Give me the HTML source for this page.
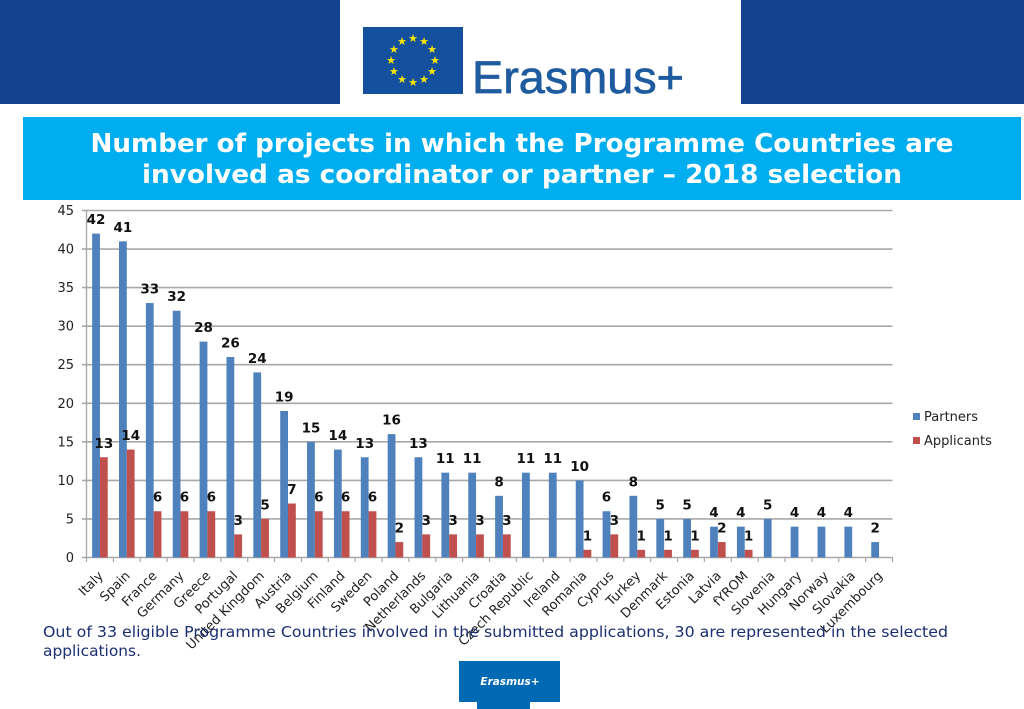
<!DOCTYPE html>
<html lang="en">
<head>
<meta charset="utf-8">
<title>Number of projects - 2018 selection</title>
<style>
html,body{margin:0;padding:0;background:#fff;width:1024px;height:709px;overflow:hidden}
svg{display:block;font-family:"DejaVu Sans","Liberation Sans",sans-serif;filter:blur(0.35px)}
</style>
</head>
<body>
<svg id="page" width="1024" height="709" viewBox="0 0 1024 709" xmlns="http://www.w3.org/2000/svg">
  <rect x="0" y="0" width="340" height="104" fill="#15428f"/>
  <rect x="741" y="0" width="283" height="104" fill="#15428f"/>
  <g>
    <rect x="363" y="27" width="100" height="67" fill="#15509f"/>
    <g id="stars"></g>
    <text x="472" y="93" font-size="45" fill="#1f5b9f" stroke="#1f5b9f" stroke-width="0.7" textLength="212" lengthAdjust="spacingAndGlyphs" style="font-family:'Liberation Sans',sans-serif">Erasmus+</text>
  </g>
  <rect x="23" y="117" width="998" height="83" fill="#00aeef"/>
  <text x="522" y="152" text-anchor="middle" font-size="26" font-weight="bold" fill="#fff" textLength="863" lengthAdjust="spacingAndGlyphs">Number of projects in which the Programme Countries are</text>
  <text x="522" y="183" text-anchor="middle" font-size="26" font-weight="bold" fill="#fff" textLength="760" lengthAdjust="spacingAndGlyphs">involved as coordinator or partner – 2018 selection</text>

  <g id="chart"></g>

  <g>
    <rect x="913" y="413" width="7" height="7" fill="#4f81bd"/>
    <text x="924" y="421" font-size="13" fill="#222">Partners</text>
    <rect x="913" y="437" width="7" height="7" fill="#c0504d"/>
    <text x="924" y="445" font-size="13" fill="#222">Applicants</text>
  </g>

  <text x="43" y="637" font-size="15.2" fill="#1b2f70" textLength="905" lengthAdjust="spacingAndGlyphs">Out of 33 eligible Programme Countries involved in the submitted applications, 30 are represented in the selected</text>
  <text x="43" y="656" font-size="15.2" fill="#1b2f70" textLength="98" lengthAdjust="spacingAndGlyphs">applications.</text>

  <g>
    <rect x="477" y="695" width="53" height="14" fill="#0069b4"/>
    <rect x="459" y="661" width="101" height="41" fill="#0069b4"/>
    <text x="510" y="685" text-anchor="middle" font-size="10.5" font-weight="bold" font-style="italic" fill="#fff">Erasmus+</text>
  </g>
</svg>
<script>
const categories = ["Italy","Spain","France","Germany","Greece","Portugal","United Kingdom","Austria","Belgium","Finland","Sweden","Poland","Netherlands","Bulgaria","Lithuania","Croatia","Czech Republic","Ireland","Romania","Cyprus","Turkey","Denmark","Estonia","Latvia","fYROM","Slovenia","Hungary","Norway","Slovakia","Luxembourg"];
const partners = [42,41,33,32,28,26,24,19,15,14,13,16,13,11,11,8,11,11,10,6,8,5,5,4,4,5,4,4,4,2];
const applicants = [13,14,6,6,6,3,5,7,6,6,6,2,3,3,3,3,null,null,1,3,1,1,1,2,1,null,null,null,null,null];
const yTicks = [0,5,10,15,20,25,30,35,40,45];

const NS = "http://www.w3.org/2000/svg";
const chart = document.getElementById("chart");
const plotLeft = 86.5, plotRight = 892.5, plotTop = 210.5, plotBottom = 557.5, yMax = 45;
const barW = 7.8;
function yScale(v){ return plotBottom - (v / yMax) * (plotBottom - plotTop); }
function xStart(i){ return plotLeft + i * (plotRight - plotLeft) / categories.length; }
function xCenter(i){ return xStart(i) + (plotRight - plotLeft) / categories.length / 2; }
function make(tag, attrs, text){
  const el = document.createElementNS(NS, tag);
  for (const k in attrs) el.setAttribute(k, attrs[k]);
  if (text !== undefined) el.textContent = text;
  chart.appendChild(el);
  return el;
}

yTicks.forEach(function(t){
  const y = yScale(t);
  const line = make("line", {x1:82, x2:plotRight, y1:y, y2:y, stroke:"#a8a8a8", "stroke-width":1.6});
  
  
  const lab = make("text", {x:74, y:y+4.5, "text-anchor":"end", "font-size":13, fill:"#222"}, t);
  
  
});
const yAxis = make("line", {x1:plotLeft, x2:plotLeft, y1:plotTop, y2:plotBottom, stroke:"#a8a8a8", "stroke-width":1.4});



for (let i = 0; i <= categories.length; i++){
  const tick = make("line", {x1:xStart(i), x2:xStart(i), y1:plotBottom, y2:plotBottom+4.5, stroke:"#a8a8a8", "stroke-width":1.2});
  
  
}

categories.forEach(function(c, i){
  const cx = xCenter(i);
  const p = partners[i], a = applicants[i];
  const pb = make("rect", {x:cx-barW, y:yScale(p), width:barW, height:plotBottom-yScale(p), fill:"#4f81bd"});
  
  
  if (a !== null){
    const ab = make("rect", {x:cx, y:yScale(a), width:barW, height:plotBottom-yScale(a), fill:"#c0504d"});
    
    
  }
});
categories.forEach(function(c, i){
  const cx = xCenter(i);
  const p = partners[i], a = applicants[i];
  const pl = make("text", {x:cx-barW/2, y:yScale(p)-9.5, "text-anchor":"middle", "font-size":13.5, "font-weight":"bold", fill:"#111"}, p);
  
  
  if (a !== null){
    const al = make("text", {x:cx+barW/2, y:yScale(a)-9.5, "text-anchor":"middle", "font-size":13.5, "font-weight":"bold", fill:"#111"}, a);
    
    
  }
  const tx = cx + 4, ty = plotBottom + 19;
  const xl = make("text", {x:tx, y:ty, "text-anchor":"end", "font-size":13, fill:"#222", transform:"rotate(-45 " + tx + " " + ty + ")"}, c);
  
  
});

const stars = document.getElementById("stars");
for (let k = 0; k < 12; k++){
  const ang = k * Math.PI / 6;
  const s = document.createElementNS(NS, "text");
  s.setAttribute("x", 413 + 22 * Math.sin(ang));
  s.setAttribute("y", 60 + 22 * -Math.cos(ang) + 4);
  s.setAttribute("text-anchor", "middle");
  s.setAttribute("font-size", 11);
  s.setAttribute("fill", "#f5e600");
  s.textContent = "★";
  
  
  stars.appendChild(s);
}
</script>
</body>
</html>
